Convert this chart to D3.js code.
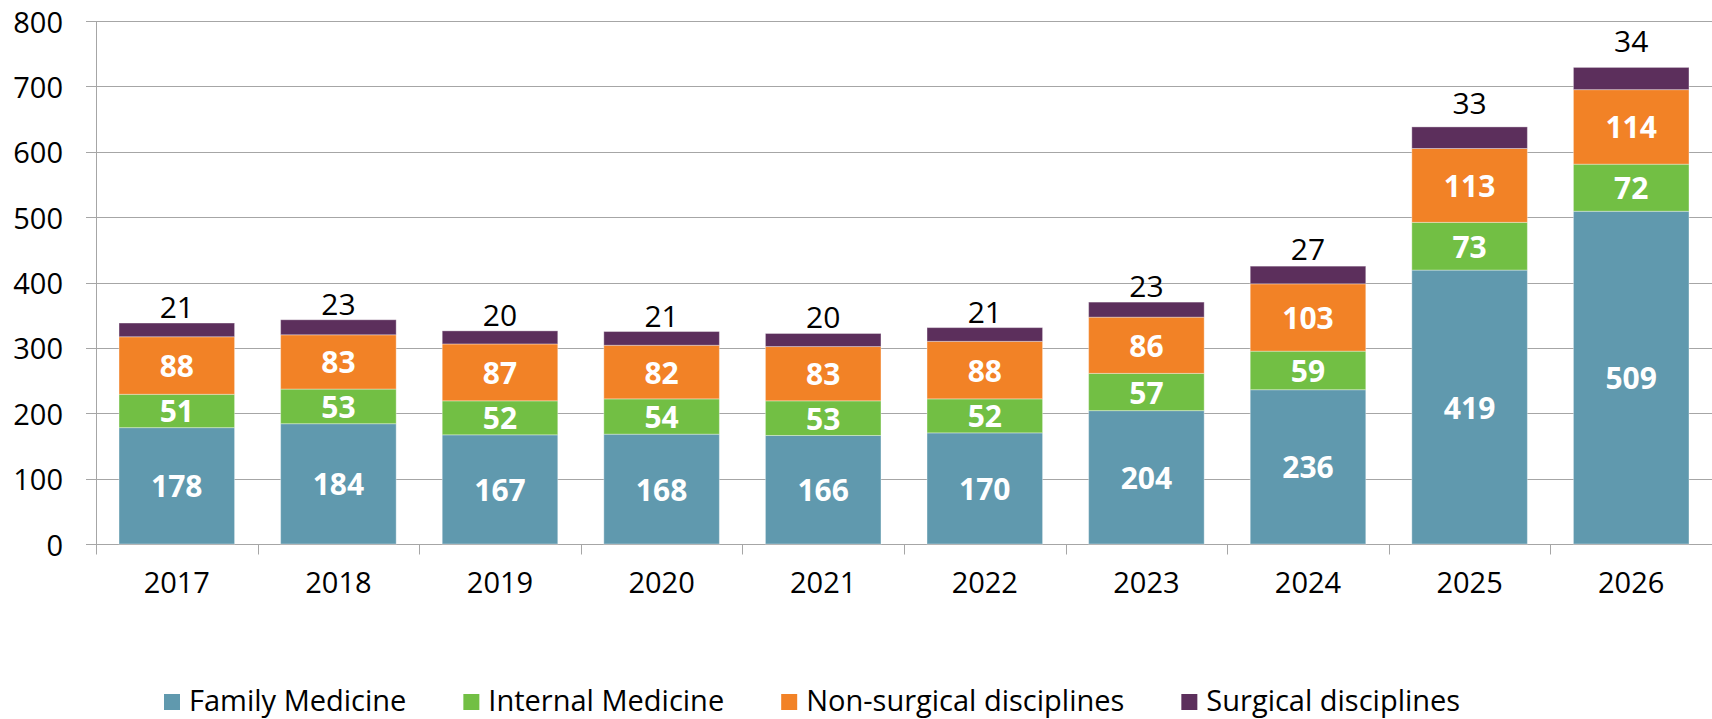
<!DOCTYPE html>
<html>
<head>
<meta charset="utf-8">
<script src="https://cdn.jsdelivr.net/npm/d3@7"></script>
<style>
    html, body { margin: 0; padding: 0; background: #fff; }
    svg { display: block; }
    .tick-label { font-family: "Open Sans", sans-serif; font-size: 29px; fill: #000; }
    .value-label { font-family: "Open Sans", sans-serif; font-size: 30px; font-weight: bold; fill: #fff; }
    .top-label { font-family: "Open Sans", sans-serif; font-size: 30px; fill: #000; }
    .legend-label { font-family: "Open Sans", sans-serif; font-size: 29px; fill: #000; }
</style>
</head>
<body>
<div id="chart"></div>
<script>
"use strict";

const years = ['2017', '2018', '2019', '2020', '2021', '2022', '2023', '2024', '2025', '2026'];
const seriesNames = ['Family Medicine', 'Internal Medicine', 'Non-surgical disciplines', 'Surgical disciplines'];
const familyMedicine = [178, 184, 167, 168, 166, 170, 204, 236, 419, 509];
const internalMedicine = [51, 53, 52, 54, 53, 52, 57, 59, 73, 72];
const nonSurgical = [88, 83, 87, 82, 83, 88, 86, 103, 113, 114];
const surgical = [21, 23, 20, 21, 20, 21, 23, 27, 33, 34];
const yTicks = [0, 100, 200, 300, 400, 500, 600, 700, 800];

const colors = ['#6099ae', '#72bf44', '#f28226', '#5c2f5c'];

const width = 1712;
const height = 719;
const margin = { top: 21, right: 0, bottom: 175, left: 96 };

const rows = years.map((year, i) => ({
    year,
    [seriesNames[0]]: familyMedicine[i],
    [seriesNames[1]]: internalMedicine[i],
    [seriesNames[2]]: nonSurgical[i],
    [seriesNames[3]]: surgical[i]
}));

const svg = d3.select('#chart')
    .append('svg')
    .attr('width', width)
    .attr('height', height);

const x = d3.scaleBand()
    .domain(years)
    .range([margin.left, width - margin.right])
    .paddingInner(0.285)
    .paddingOuter(0.1425);

const y = d3.scaleLinear()
    .domain([0, 800])
    .range([height - margin.bottom, margin.top]);

renderGrid();
renderBars();
renderAxes();
renderLegend();


// ------------------------- Rendering Helpers -------------------------

function renderGrid() {
    svg.append('g')
        .selectAll('line')
        .data(yTicks)
        .join('line')
        .attr('x1', margin.left - 10)
        .attr('x2', width - margin.right)
        .attr('y1', d => Math.round(y(d)) + 0.5)
        .attr('y2', d => Math.round(y(d)) + 0.5)
        .attr('stroke', '#a6a6a6')
        .attr('stroke-width', 1);
}

function renderBars() {
    const stacked = d3.stack().keys(seriesNames)(rows);

    const layers = svg.append('g')
        .selectAll('g')
        .data(stacked)
        .join('g')
        .attr('fill', (d, i) => colors[i]);

    layers.selectAll('rect')
        .data(d => d)
        .join('rect')
        .attr('x', d => x(d.data.year))
        .attr('width', x.bandwidth())
        .attr('y', d => y(d[1]))
        .attr('height', d => y(d[0]) - y(d[1]))
        .attr('stroke', 'rgba(255,255,255,0.35)')
        .attr('stroke-width', 1);

    // white labels inside the first three segments
    layers.filter((d, i) => i < 3)
        .selectAll('text')
        .data(layer => layer.map(d => ({ d, key: layer.key })))
        .join('text')
        .classed('value-label', true)
        .attr('x', ({ d }) => x(d.data.year) + x.bandwidth() / 2)
        .attr('y', ({ d }) => (y(d[0]) + y(d[1])) / 2)
        .attr('text-anchor', 'middle')
        .attr('dominant-baseline', 'central')
        .text(({ d, key }) => d.data[key]);

    // surgical labels sit above the bar; the tall ones float a bit higher
    const top = stacked[3];
    svg.append('g')
        .selectAll('text')
        .data(top)
        .join('text')
        .classed('top-label', true)
        .attr('x', d => x(d.data.year) + x.bandwidth() / 2)
        .attr('y', d => y(d[1]) - 5 - Math.max(0, d[1] - 400) * 0.033)
        .attr('text-anchor', 'middle')
        .text(d => d.data[seriesNames[3]]);
}

function renderAxes() {
    const base = Math.round(y(0)) + 0.5;

    svg.append('line')
        .attr('x1', margin.left + 0.5)
        .attr('x2', margin.left + 0.5)
        .attr('y1', y(800))
        .attr('y2', base)
        .attr('stroke', '#a6a6a6');

    // category boundary ticks
    const step = x.step();
    svg.append('g')
        .selectAll('line')
        .data(years)
        .join('line')
        .attr('x1', d => Math.round(x(d) - step * 0.1425) + 0.5)
        .attr('x2', d => Math.round(x(d) - step * 0.1425) + 0.5)
        .attr('y1', base)
        .attr('y2', base + 10)
        .attr('stroke', '#a6a6a6');

    svg.append('g')
        .selectAll('text')
        .data(yTicks)
        .join('text')
        .classed('tick-label', true)
        .attr('x', 63)
        .attr('y', d => y(d))
        .attr('text-anchor', 'end')
        .attr('dominant-baseline', 'central')
        .text(d => d);

    svg.append('g')
        .selectAll('text')
        .data(years)
        .join('text')
        .classed('tick-label', true)
        .attr('x', d => x(d) + x.bandwidth() / 2)
        .attr('y', 593)
        .attr('text-anchor', 'middle')
        .text(d => d);
}

function renderLegend() {
    const legend = svg.append('g')
        .attr('transform', 'translate(164, 711)');

    let offset = 0;
    seriesNames.forEach((name, i) => {
        const item = legend.append('g')
            .attr('transform', `translate(${offset}, 0)`);

        item.append('rect')
            .attr('x', 0)
            .attr('y', -17)
            .attr('width', 16)
            .attr('height', 16)
            .attr('fill', colors[i]);

        const label = item.append('text')
            .classed('legend-label', true)
            .attr('x', 25)
            .attr('y', 0)
            .text(name);

        offset += 25 + label.node().getComputedTextLength() + 57;
    });
}
</script>
</body>
</html>
